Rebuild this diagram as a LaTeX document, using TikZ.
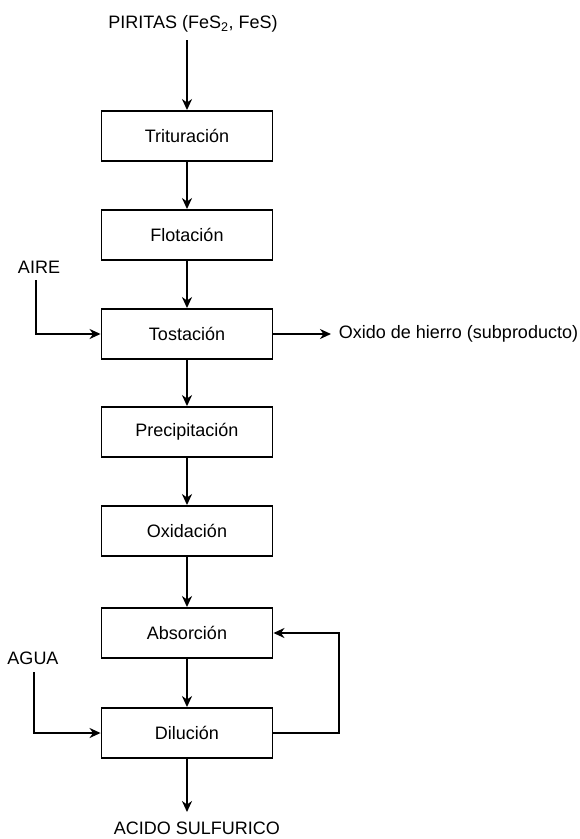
\documentclass[tikz,border=0pt]{standalone}
\usepackage{fontspec}
\setmainfont{Liberation Sans}
\usetikzlibrary{arrows.meta}
\begin{document}
\begin{tikzpicture}[x=1pt,y=-1pt,
  font=\fontsize{18}{21}\selectfont,
  line width=1.9pt,
  >={Stealth[length=11pt,width=10pt,inset=3.5pt]},
  stage/.style={draw,minimum width=171pt,minimum height=50pt,inner sep=0pt},
  lbl/.style={inner sep=0pt},
  flow/.style={->}]
\useasboundingbox (0,0) rectangle (580,839);

% process stages
\node[stage] (trit) at (187,136) {Trituración};
\node[stage] (flot) at (187,235) {Flotación};
\node[stage] (tost) at (187,334) {Tostación};
\node[stage] (prec) at (187,432) {Precipitación};
\node[stage] (oxid) at (187,531) {Oxidación};
\node[stage] (abso) at (187,633) {Absorción};
\node[stage] (dilu) at (187,733) {Dilución};

% inputs and outputs
\node[lbl] (pir) at (193,24) {PIRITAS (FeS\textsubscript{2}, FeS)};
\coordinate (pirEnd) at (187,40);
\node[lbl] (aire) at (39,267) {AIRE};
\coordinate (aireTop) at (36,280);
\node[lbl,anchor=west] (oxfe) at (338,334) {Oxido de hierro (subproducto)};
\node[lbl] (agua) at (33,658) {AGUA};
\coordinate (aguaTop) at (34,672);
\node[lbl] (acido) at (197,828) {ACIDO SULFURICO};
\coordinate (acidoEnd) at (187,812);
\coordinate (loopR) at (339,0);

% main line
\draw[flow] (pirEnd) -- (trit);
\draw[flow] (trit) -- (flot);
\draw[flow] (flot) -- (tost);
\draw[flow] (tost) -- (prec);
\draw[flow] (prec) -- (oxid);
\draw[flow] (oxid) -- (abso);
\draw[flow] (abso) -- (dilu);
\draw[flow] (dilu) -- (acidoEnd);

% side streams
\draw[flow] (aireTop) |- (tost.west);
\draw[flow] (tost.east) -- (oxfe.west -| 331,0);
\draw[flow] (aguaTop) |- (dilu.west);
\draw[flow] (dilu.east) -| (loopR |- abso.east) -- (abso.east);
\end{tikzpicture}
\end{document}
